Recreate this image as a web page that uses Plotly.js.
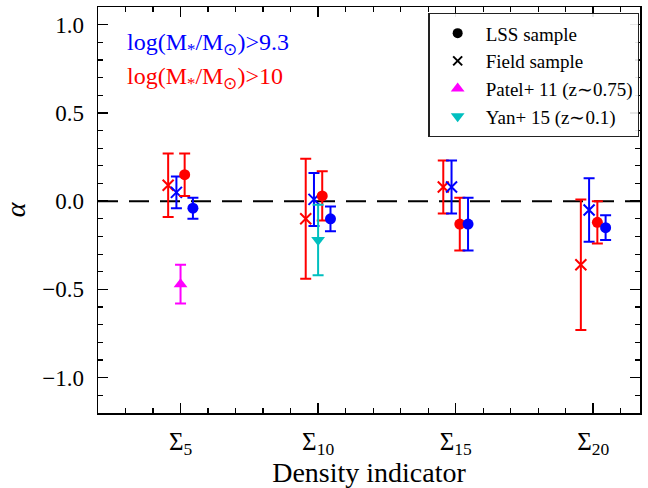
<!DOCTYPE html>
<html>
<head>
<meta charset="utf-8">
<script src="https://cdn.plot.ly/plotly-3.0.1.min.js"></script>
<style>html,body{margin:0;padding:0;background:#fff;}#chart{width:648px;height:488px;}</style>
</head>
<body>
<div id="chart"></div>
<script>
// Categories (density indicators)
const categories = ["Σ<sub>5</sub>", "Σ<sub>10</sub>", "Σ<sub>15</sub>", "Σ<sub>20</sub>"];

// LSS sample (circles)
const lssBlue = [-0.04, -0.10, -0.13, -0.15];
const lssBlueErr = [0.06, 0.07, 0.15, 0.07];
const lssRed = [0.15, 0.03, -0.13, -0.12];
const lssRedErr = [0.12, 0.14, 0.15, 0.12];

// Field sample (crosses)
const fieldBlue = [0.05, 0.01, 0.08, -0.05];
const fieldBlueErr = [0.09, 0.15, 0.15, 0.18];
const fieldRed = [0.09, -0.10, 0.08, -0.36];
const fieldRedErr = [0.18, 0.34, 0.15, 0.37];

// Literature
const patelCat = 0, patelVal = -0.47, patelErr = 0.11;
const yanCat = 1, yanVal = -0.22, yanErr = 0.20;

const idx = categories.map((c, i) => i);
const off = (d) => idx.map(i => i + d);

const BLUE = "#0000ff", RED = "#ff0000", MAG = "#ff00ff", CYAN = "#00bfbf";
const serif = "Liberation Serif";

function err(arr, color) {
  return {type: "data", array: arr, visible: true, color: color, thickness: 2, width: 5.5};
}

const traces = [
  {x: off(-0.09), y: fieldRed, error_y: err(fieldRedErr, RED), mode: "markers", showlegend: false,
   marker: {symbol: "x-thin-open", size: 11, color: RED, line: {color: RED, width: 2}}},
  {x: off(-0.03), y: fieldBlue, error_y: err(fieldBlueErr, BLUE), mode: "markers", showlegend: false,
   marker: {symbol: "x-thin-open", size: 11, color: BLUE, line: {color: BLUE, width: 2}}},
  {x: off(0.03), y: lssRed, error_y: err(lssRedErr, RED), mode: "markers", showlegend: false,
   marker: {symbol: "circle", size: 11, color: RED}},
  {x: off(0.09), y: lssBlue, error_y: err(lssBlueErr, BLUE), mode: "markers", showlegend: false,
   marker: {symbol: "circle", size: 11, color: BLUE}},
  {x: [null], y: [null], mode: "markers", name: "LSS sample",
   marker: {symbol: "circle", size: 10, color: "black"}},
  {x: [null], y: [null], mode: "markers", name: "Field sample",
   marker: {symbol: "x-thin-open", size: 9, color: "black", line: {color: "black", width: 2}}},
  {x: [patelCat], y: [patelVal], error_y: err([patelErr], MAG), mode: "markers", name: "Patel+ 11 (z∼0.75)",
   marker: {symbol: "triangle-up", size: 12, color: MAG}},
  {x: [yanCat], y: [yanVal], error_y: err([yanErr], CYAN), mode: "markers", name: "Yan+ 15 (z∼0.1)",
   marker: {symbol: "triangle-down", size: 12, color: CYAN}}
];

const layout = {
  width: 648, height: 488,
  margin: {l: 98, r: 8, t: 7, b: 75},
  paper_bgcolor: "#fff", plot_bgcolor: "#fff",
  font: {family: serif, color: "black", size: 18},
  showlegend: true,
  legend: {x: 0.999, xanchor: "right", y: 0.985, yanchor: "top",
    bgcolor: "rgba(255,255,255,0.9)", bordercolor: "#222", borderwidth: 1.2,
    font: {family: serif, size: 19, color: "black"}, traceorder: "normal",
    itemwidth: 46},
  xaxis: {
    range: [-0.6, 3.34], tickmode: "array", tickvals: idx, ticktext: categories,
    ticks: "inside", ticklen: 10, tickwidth: 1.5, tickcolor: "black",
    showline: true, linewidth: 1.5, linecolor: "black", mirror: "allticks",
    showgrid: false, zeroline: false,
    tickfont: {family: serif, size: 25},
    ticklabelstandoff: 5,
    minor: {ticks: "inside", ticklen: 5, tickwidth: 1.2, tickcolor: "black", dtick: 0.2, tick0: 0, showgrid: false},
    title: {text: "Density indicator", font: {family: serif, size: 28}, standoff: 4}
  },
  yaxis: {
    range: [-1.2, 1.1], tickmode: "linear", tick0: 0, dtick: 0.5, tickformat: ".1f",
    ticks: "inside", ticklen: 10, tickwidth: 1.5, tickcolor: "black",
    showline: true, linewidth: 1.5, linecolor: "black", mirror: "allticks",
    showgrid: false, zeroline: false,
    tickfont: {family: serif, size: 23},
    ticklabelstandoff: 8,
    minor: {ticks: "inside", ticklen: 5, tickwidth: 1.2, tickcolor: "black", dtick: 0.1, tick0: 0, showgrid: false},
    title: {text: "<i>α</i>", font: {family: serif, size: 28}, standoff: 20}
  },
  shapes: [
    {type: "line", xref: "paper", x0: 0, x1: 1, yref: "y", y0: 0, y1: 0,
     line: {color: "black", width: 2, dash: "20px,11px"}, layer: "below"}
  ],
  annotations: [
    {xref: "paper", yref: "paper", x: 0.05, y: 0.909, xanchor: "left", yanchor: "middle", showarrow: false,
     text: "log(M<sub>*</sub>/M<sub>⊙</sub>)>9.3", font: {family: serif, size: 24, color: BLUE}},
    {xref: "paper", yref: "paper", x: 0.05, y: 0.825, xanchor: "left", yanchor: "middle", showarrow: false,
     text: "log(M<sub>*</sub>/M<sub>⊙</sub>)>10", font: {family: serif, size: 24, color: RED}}
  ]
};

Plotly.newPlot("chart", traces, layout, {displayModeBar: false, staticPlot: true});
</script>
</body>
</html>
